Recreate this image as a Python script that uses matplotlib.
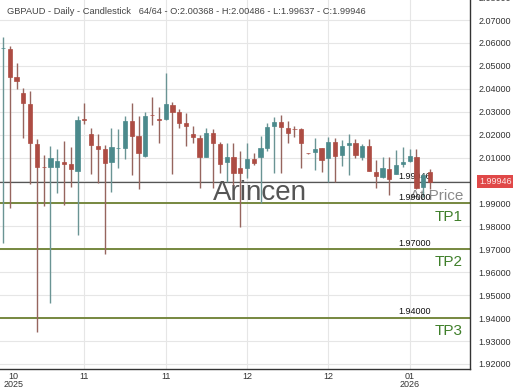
import numpy as np
import matplotlib.pyplot as plt
import matplotlib.transforms as mtransforms
from matplotlib.ticker import FormatStrFormatter

plt.rcParams['font.family'] = ['Liberation Sans', 'DejaVu Sans']

# daily GBPAUD candles (64 bars)
opens = [2.0578, 2.0574, 2.0451, 2.0382, 2.0334, 2.0159, 2.0061, 2.0059, 2.0059, 2.0081,
         2.0072, 2.0042, 2.0268, 2.0203, 2.0151, 2.0138, 2.0081, 2.0142, 2.0142, 2.0260,
         2.0194, 2.0107, 2.0286, 2.0268, 2.0268, 2.0329, 2.0299, 2.0251, 2.0203, 2.0186,
         2.0103, 2.0207, 2.0159, 2.0081, 2.0103, 2.0055, 2.0055, 2.0094, 2.0103, 2.0142,
         2.0238, 2.0256, 2.0229, 2.0225, 2.0225, 2.0120, 2.0124, 2.0142, 2.0098, 2.0168,
         2.0111, 2.0155, 2.0164, 2.0103, 2.0151, 2.0037, 2.0015, 2.0050, 2.0029, 2.0072,
         2.0085, 2.0103, 1.9972, 2.00368]
highs = [2.0626, 2.0587, 2.0513, 2.0404, 2.0390, 2.0181, 2.0111, 2.0151, 2.0138, 2.0172,
         2.0146, 2.0281, 2.0338, 2.0229, 2.0203, 2.0155, 2.0229, 2.0225, 2.0281, 2.0338,
         2.0281, 2.0299, 2.0364, 2.0321, 2.0469, 2.0342, 2.0312, 2.0295, 2.0238, 2.0199,
         2.0229, 2.0225, 2.0168, 2.0164, 2.0164, 2.0129, 2.0164, 2.0120, 2.0194, 2.0251,
         2.0277, 2.0286, 2.0260, 2.0238, 2.0229, 2.0122, 2.0186, 2.0144, 2.0190, 2.0186,
         2.0177, 2.0203, 2.0181, 2.0159, 2.0181, 2.0090, 2.0103, 2.0103, 2.0133, 2.0146,
         2.0138, 2.0138, 2.0033, 2.00486]
lows = [1.9728, 1.9880, 2.0399, 2.0186, 1.9985, 1.9340, 1.9889, 1.9466, 1.9946, 1.9893,
        1.9972, 1.9763, 2.0247, 2.0029, 1.9989, 1.9680, 1.9950, 2.0055, 2.0094, 2.0024,
        1.9963, 2.0103, 2.0242, 2.0164, 2.0264, 2.0029, 2.0229, 2.0151, 2.0164, 1.9968,
        2.0101, 1.9968, 2.0033, 1.9994, 1.9981, 1.9797, 2.0011, 2.0068, 1.9902, 2.0129,
        2.0033, 2.0033, 2.0164, 2.0190, 2.0055, 2.0117, 2.0046, 2.0037, 1.9994, 1.9994,
        2.0063, 2.0024, 2.0098, 2.0090, 2.0040, 1.9968, 2.0011, 1.9937, 2.0027, 2.0059,
        2.0083, 1.9965, 1.9928, 1.99637]
closes = [2.0580, 2.0451, 2.0434, 2.0338, 2.0164, 2.0059, 2.0058, 2.0098, 2.0085, 2.0072,
          2.0050, 2.0264, 2.0266, 2.0155, 2.0138, 2.0077, 2.0146, 2.0144, 2.0260, 2.0194,
          2.0120, 2.0281, 2.0284, 2.0266, 2.0334, 2.0299, 2.0251, 2.0238, 2.0190, 2.0103,
          2.0207, 2.0164, 2.0072, 2.0103, 2.0033, 2.0033, 2.0094, 2.0077, 2.0142, 2.0233,
          2.0256, 2.0233, 2.0207, 2.0223, 2.0164, 2.0119, 2.0138, 2.0090, 2.0168, 2.0107,
          2.0151, 2.0164, 2.0111, 2.0151, 2.0042, 2.0020, 2.0055, 2.0007, 2.0068, 2.0081,
          2.0107, 1.9968, 2.0024, 1.99946]

tick_pos = [12, 24, 36, 48, 60]
tick_labels = ['11', '11', '12', '12', '01\n2026']
first_tick = 1.6
first_label = '10\n2025'

last_price = 1.99946
tp_levels = [1.99, 1.97, 1.94]
tp_names = ['TP1', 'TP2', 'TP3']

title = ('GBPAUD - Daily - Candlestick   64/64 - O:2.00368 - H:2.00486 - '
         'L:1.99637 - C:1.99946')

fig = plt.figure(figsize=(5.2, 3.9), dpi=100)
ax = fig.add_axes([0, 21 / 390, 470 / 520, 373 / 390])

o = np.array(opens)
h = np.array(highs)
l = np.array(lows)
c = np.array(closes)
x = np.arange(len(o))

up = c > o + 0.00005
dn = c < o - 0.00005
colors = np.where(up, '#4b8a8c', np.where(dn, '#ad4c43', '#8c7468'))
wick_colors = np.where(up, '#6a9494', np.where(dn, '#96655e', '#857168'))

ax.vlines(x, l, h, colors=wick_colors, lw=1.0, zorder=3)
body_lo = np.minimum(o, c)
body_h = np.maximum(np.abs(c - o), 0.00012)
ax.bar(x, body_h, bottom=body_lo, width=0.62, color=colors,
       edgecolor=colors, lw=0.5, zorder=4)

ax.set_xlim(-0.44, 68.9)
ax.set_ylim(1.9178, 2.0805)

ax.yaxis.tick_right()
ax.set_yticks(np.round(np.arange(1.92, 2.0801, 0.01), 2))
ax.yaxis.set_major_formatter(FormatStrFormatter('%.5f'))
ax.tick_params(axis='y', length=0, pad=6, labelsize=6.5, labelcolor='#333333')

ax.set_xticks(tick_pos, tick_labels)
ax.set_xticks([first_tick], [first_label], minor=True)
ax.tick_params(axis='x', which='both', length=0, pad=2, labelsize=6.5,
               labelcolor='#333333')
for lab in ax.get_xticklabels(which='both'):
    lab.set_linespacing(0.95)
ax.grid(True, which='major', color='#e6e6e6', lw=0.8, zorder=0)

for side in ['left', 'top']:
    ax.spines[side].set_visible(False)
for side in ['bottom', 'right']:
    ax.spines[side].set_color('#333333')
    ax.spines[side].set_linewidth(1.0)

trans = mtransforms.blended_transform_factory(ax.transAxes, ax.transData)

# watermark
ax.text(0.553, 0.472, 'Arincen', transform=ax.transAxes, fontsize=20,
        color='#555555', ha='center', va='center', zorder=2)

# last price line
ax.axhline(last_price, color='#555555', lw=0.9, zorder=2)
ax.annotate(f'{last_price:.5f}', xy=(0.917, last_price), xycoords=trans,
            xytext=(0, 3.6), textcoords='offset points', ha='right',
            va='center', fontsize=6.5, color='#111111', zorder=2)
ax.annotate('At Price', xy=(0.985, last_price), xycoords=trans,
            xytext=(0, -10), textcoords='offset points', ha='right',
            va='center', fontsize=11, color='#8a8a8a', zorder=2)
ax.annotate(f'{last_price:.5f}', xy=(1, last_price), xycoords=trans,
            xytext=(6.5, 0), textcoords='offset points', ha='left',
            va='center', fontsize=6.5, color='#fde8e8', annotation_clip=False,
            bbox=dict(boxstyle='square,pad=0.2', fc='#e04848', ec='none'))

# take profit levels
for lvl, name in zip(tp_levels, tp_names):
    ax.axhline(lvl, color='#76883f', lw=1.4, zorder=2)
    ax.annotate(f'{lvl:.5f}', xy=(0.917, lvl), xycoords=trans,
                xytext=(0, 4.5), textcoords='offset points', ha='right',
                va='center', fontsize=6.5, color='#111111')
    ax.annotate(name, xy=(0.985, lvl), xycoords=trans,
                xytext=(0, -9.4), textcoords='offset points', ha='right',
                va='center', fontsize=11, color='#3f7f2a')

fig.text(7 / 520, 1 - 11 / 390, title, fontsize=6.7, color='#444444',
         va='center', ha='left')

fig.savefig('out.png', dpi=100)
plt.close(fig)
